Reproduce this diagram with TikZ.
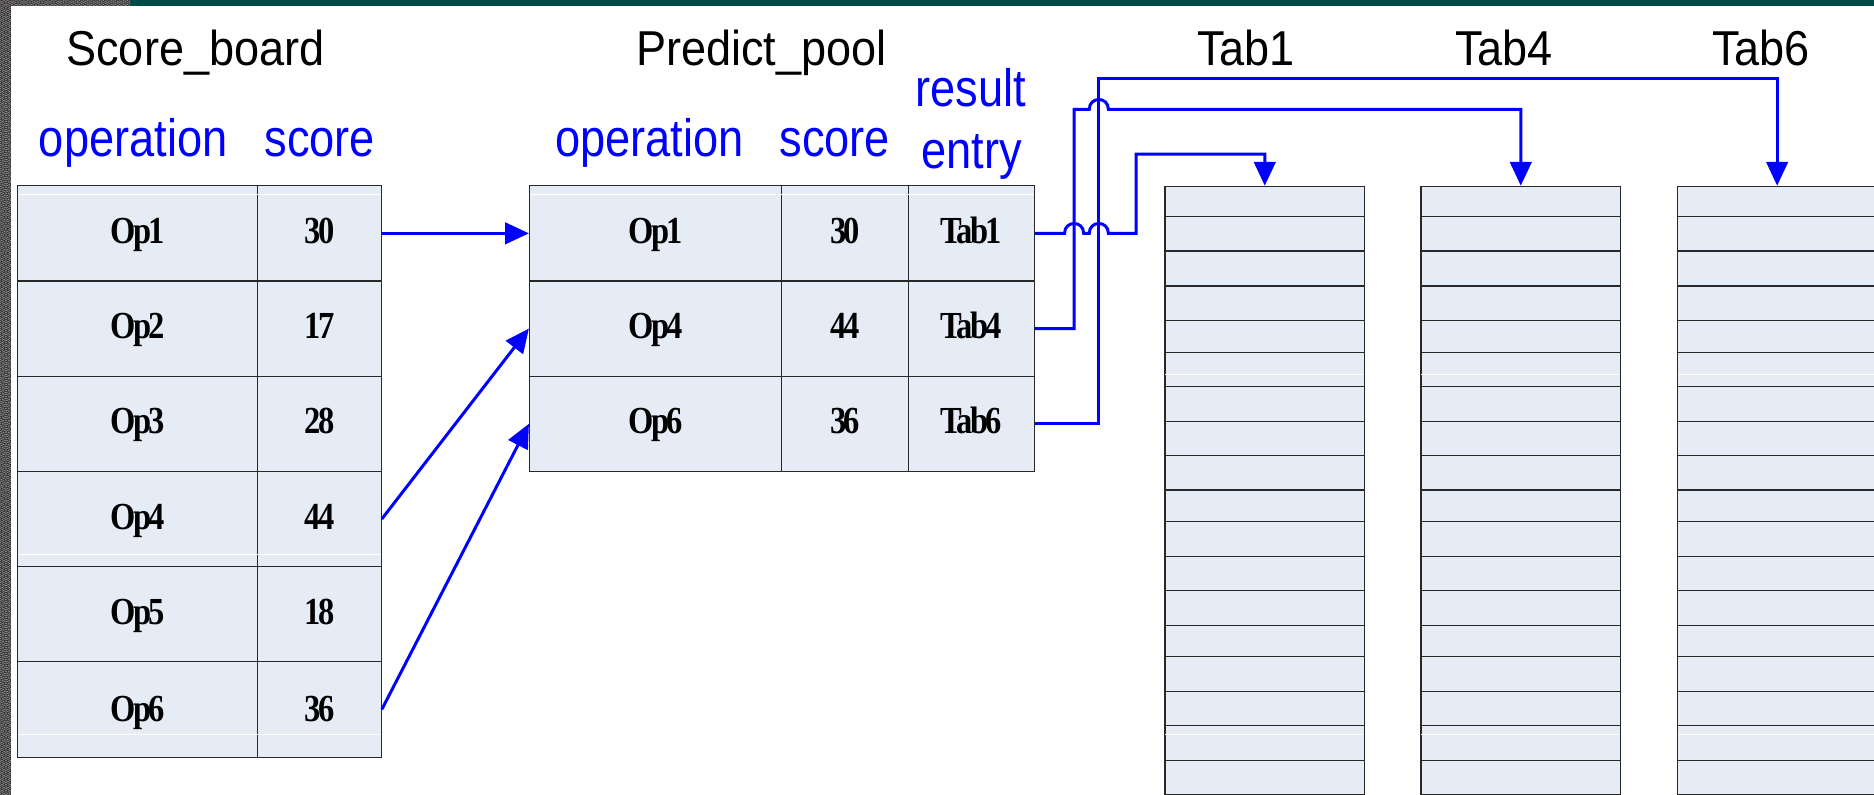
\documentclass[tikz,border=0pt]{standalone}
\usepackage{fontspec}
\usepackage{graphicx}
\setmainfont{Liberation Serif}
\newfontfamily\arialf{Liberation Sans}
\newfontfamily\cellfont[LetterSpace=-8]{Liberation Serif}
\usetikzlibrary{arrows.meta,calc}

\definecolor{cellfill}{RGB}{229,236,246}
\definecolor{gridline}{RGB}{40,40,40}
\definecolor{linkblue}{RGB}{0,0,255}
\definecolor{topteal}{RGB}{0,74,74}
\definecolor{patdark}{RGB}{45,42,42}
\definecolor{patlight}{RGB}{140,138,138}

% horizontal squeeze of a text
\newcommand\sqz[2]{\scalebox{#1}[1]{#2}}

\begin{document}
\begin{tikzpicture}[x=1pt,y=-1pt,
  cell/.style={draw=gridline,line width=0.9pt,fill=cellfill,inner sep=0pt,
    text height=21pt,text depth=4pt,font=\cellfont\fontsize{32}{32}\selectfont\bfseries},
  title/.style={anchor=base,inner sep=0pt,font=\arialf\fontsize{41}{41}\selectfont},
  colhead/.style={anchor=base,inner sep=0pt,text=linkblue,font=\arialf\fontsize{44}{44}\selectfont},
  link/.style={draw=linkblue,line width=2.5pt},
  tip/.style={-{Triangle[length=20pt,width=18pt]}},
  shine/.style={draw=white,line width=0.9pt},
  rowline/.style={draw=gridline,line width=0.9pt},
  tabcol/.style={draw=gridline,line width=0.9pt,fill=cellfill,inner sep=0pt,
    minimum width=167pt,minimum height=509.3pt,anchor=north west},
  wave/.pic={
    \fill[patdark] (0,0) circle[radius=5pt];
    \draw[patlight,line width=0.6pt] (0,0) circle[radius=4.3pt]
      (0,0) circle[radius=2.8pt] (0,0) circle[radius=1.3pt];
  }
]
\useasboundingbox (0,0) rectangle (1568,665);
\clip (0,0) rectangle (1568,665);
\fill[white] (0,0) rectangle (1568,665);

% frame: teal bar and patterned border
\fill[topteal] (108.8,0) rectangle (1568,5);
\begin{scope}
  \clip (0,0) rectangle (9.2,665) (0,0) rectangle (108.8,5);
  \fill[patdark] (0,0) rectangle (108.8,665);
  \foreach \j in {-2,...,3}
    \foreach \i in {0,...,11}
      \pic at ({\i*10+mod(\j+2,2)*5},{\j*2.5}) {wave};
  \foreach \j in {4,...,270}
    \foreach \i in {0,1}
      \pic at ({\i*10+mod(\j,2)*5},{\j*2.5}) {wave};
\end{scope}

% titles
\node[title] (hsb) at (163.5,55.2) {\sqz{0.92}{Score\_board}};
\node[title] (hpp) at (637,55.2) {\sqz{0.92}{Predict\_pool}};
\node[title] (ht1) at (1042.5,55.2) {\sqz{0.92}{Tab1}};
\node[title] (ht4) at (1258.5,55.2) {\sqz{0.92}{Tab4}};
\node[title] (ht6) at (1473.5,55.2) {\sqz{0.92}{Tab6}};

% column headings
\node[colhead] (hop1) at (111.5,131) {\sqz{0.86}{operation}};
\node[colhead] (hsc1) at (267.5,131) {\sqz{0.86}{score}};
\node[colhead] (hop2) at (543.5,131) {\sqz{0.86}{operation}};
\node[colhead] (hsc2) at (698.5,131) {\sqz{0.86}{score}};
\node[colhead] (hres) at (812.5,89.3) {\sqz{0.86}{result}};
\node[colhead] (hent) at (813,141) {\sqz{0.86}{entry}};

% Score_board
\foreach \op/\sc/\dy [count=\r] in {Op1/30/0,Op2/17/0,Op3/28/0,Op4/44/0,Op5/18/0,Op6/36/3} {
  \node[cell,minimum width=201.1pt,minimum height=79.68pt,text depth={4pt-\dy pt}] (so\r)
    at (115.05,{115.56+\r*79.68}) {\sqz{0.85}{\op}};
  \node[cell,minimum width=103.4pt,minimum height=79.68pt,text depth={4pt-\dy pt}] (ss\r)
    at (267.3,{115.56+\r*79.68}) {\sqz{0.85}{\sc}};
}
\draw[shine] (15,162.6) -- (318.5,162.6);
\draw[shine] (15,463.8) -- (318.5,463.8);
\draw[shine] (15,614.5) -- (318.5,614.5);

% Predict_pool
\foreach \op/\sc/\tb [count=\r] in {Op1/30/Tab1,Op4/44/Tab4,Op6/36/Tab6} {
  \node[cell,minimum width=211pt,minimum height=79.68pt] (po\r)
    at (548.5,{115.56+\r*79.68}) {\sqz{0.85}{\op}};
  \node[cell,minimum width=106pt,minimum height=79.68pt] (ps\r)
    at (707,{115.56+\r*79.68}) {\sqz{0.85}{\sc}};
  \node[cell,minimum width=105.5pt,minimum height=79.68pt] (pt\r)
    at (812.75,{115.56+\r*79.68}) {\sqz{0.85}{\tb}};
}
\draw[shine] (443.5,162.6) -- (865,162.6);

% result tables
\foreach \name/\x in {t1/974.3,t4/1188.5,t6/1403} {
  \node[tabcol] (\name) at (\x,155.4) {};
  \foreach \yy in {181.3,210,239.3,268.3,294.6,323.6,352.6,381.3,410,436.5,
                   465.3,494.3,523,549.5,578.2,607.3,636.2}
    \draw[rowline] (\x,\yy) -- ({\x+167},\yy);
  \draw[shine] ({\x+0.6},313.2) -- ({\x+166.4},313.2);
  \draw[shine] ({\x+0.6},614.2) -- ({\x+166.4},614.2);
}

% selection arrows
\draw[link,tip] (ss1.east) -- (po1.west);
\draw[link,tip] (ss4.east) -- (po2.west);
\draw[link,tip] (ss6.east) -- (po3.west);

% routing to the tables
\coordinate (bus4) at (898.7,91.5);
\coordinate (bus6) at (919.4,65.5);
\coordinate (bus1) at (950.6,129);
\coordinate (j4) at (bus4 -| bus6);
\coordinate (j1a) at (pt1.east -| bus4);
\coordinate (j1b) at (pt1.east -| bus6);

\draw[link,tip] (pt3.east) -| (bus6) -| (t6.north);
\draw[link,tip] (pt2.east) -| (bus4) -- ($(j4)+(-8,0)$)
  .. controls ($(j4)+(-8,-11)$) and ($(j4)+(8,-11)$) .. ($(j4)+(8,0)$)
  -| (t4.north);
\draw[link,tip] (pt1.east) -- ($(j1a)+(-8,0)$)
  .. controls ($(j1a)+(-8,-11)$) and ($(j1a)+(8,-11)$) .. ($(j1a)+(8,0)$)
  -- ($(j1b)+(-8,0)$)
  .. controls ($(j1b)+(-8,-11)$) and ($(j1b)+(8,-11)$) .. ($(j1b)+(8,0)$)
  -| (bus1) -| (t1.north);
\end{tikzpicture}
\end{document}
